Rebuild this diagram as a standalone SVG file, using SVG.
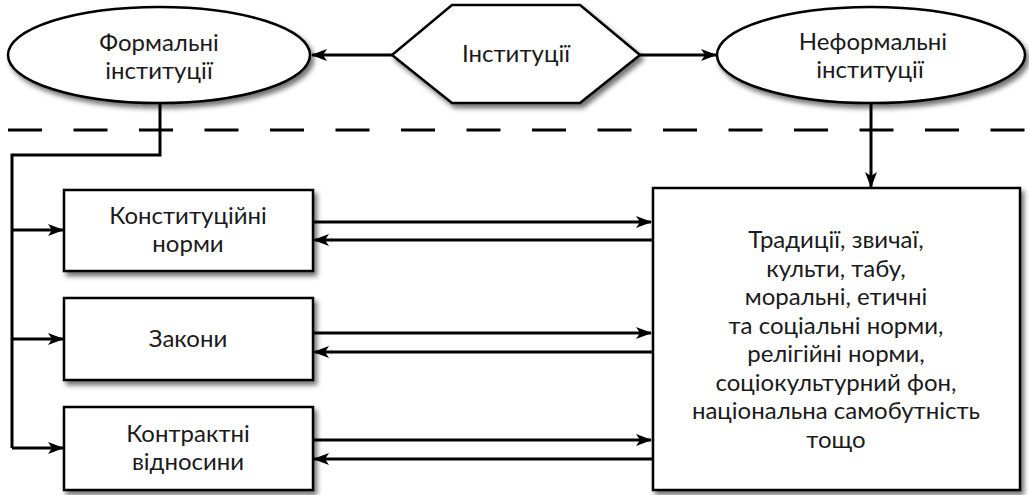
<svg xmlns="http://www.w3.org/2000/svg" width="1029" height="495" viewBox="0 0 1029 495">
  <style>
    .shape { fill: #ffffff; stroke: #000000; stroke-width: 2.5; filter: url(#shadow); }
    .lbl { font-family: Lato, "Open Sans", "Liberation Sans", sans-serif; font-size: 24px; fill: #1a1a1a; text-anchor: middle; }
    .conn { fill: none; stroke: #000000; stroke-width: 3; }
    .arrow { marker-end: url(#ah); }
    .dash { fill: none; stroke: #000000; stroke-width: 3; stroke-dasharray: 34 31.5; }
  </style>
  <defs>
    <filter id="shadow" x="-10%" y="-10%" width="130%" height="140%">
      <feDropShadow dx="3" dy="4" stdDeviation="2.5" flood-color="#000000" flood-opacity="0.55"/>
    </filter>
    <marker id="ah" viewBox="0 0 16 12" refX="15" refY="6" markerWidth="16" markerHeight="12" markerUnits="userSpaceOnUse" orient="auto">
      <path d="M0,0 L16,6 L0,12 L4,6 Z" fill="#000000"/>
    </marker>
  </defs>

  <rect width="1029" height="495" fill="#ffffff"/>

  <line class="dash" x1="8" y1="130" x2="1029" y2="130"/>

  <g id="connectors">
    <line class="conn arrow" x1="392" y1="55" x2="312" y2="55"/>
    <line class="conn arrow" x1="640" y1="55" x2="716" y2="55"/>
    <path class="conn" d="M160,103 V155 H12 V448"/>
    <line class="conn arrow" x1="12" y1="230" x2="63" y2="230"/>
    <line class="conn arrow" x1="12" y1="339" x2="63" y2="339"/>
    <line class="conn arrow" x1="12" y1="448" x2="63" y2="448"/>
    <line class="conn arrow" x1="871" y1="103" x2="871" y2="187"/>
    <line class="conn arrow" x1="313" y1="222" x2="651" y2="222"/>
    <line class="conn arrow" x1="652" y1="240" x2="314" y2="240"/>
    <line class="conn arrow" x1="313" y1="333" x2="651" y2="333"/>
    <line class="conn arrow" x1="652" y1="352" x2="314" y2="352"/>
    <line class="conn arrow" x1="313" y1="440" x2="651" y2="440"/>
    <line class="conn arrow" x1="652" y1="459" x2="314" y2="459"/>
  </g>

  <g id="formal">
    <ellipse class="shape" cx="159" cy="55" rx="151" ry="48"/>
    <text class="lbl" x="159" y="51">Формальні</text>
    <text class="lbl" x="159" y="79">інституції</text>
  </g>

  <g id="institutions">
    <polygon class="shape" points="392,55 452,5 580,5 640,55 580,103 452,103"/>
    <text class="lbl" x="516" y="62">Інституції</text>
  </g>

  <g id="informal">
    <ellipse class="shape" cx="871" cy="55" rx="154" ry="48"/>
    <text class="lbl" x="873" y="50">Неформальні</text>
    <text class="lbl" x="870" y="78">інституції</text>
  </g>

  <g id="constitutional">
    <rect class="shape" x="64" y="190" width="249" height="81"/>
    <text class="lbl" x="188" y="224">Конституційні</text>
    <text class="lbl" x="188" y="252">норми</text>
  </g>

  <g id="laws">
    <rect class="shape" x="64" y="298" width="249" height="82"/>
    <text class="lbl" x="188" y="347">Закони</text>
  </g>

  <g id="contracts">
    <rect class="shape" x="64" y="407" width="249" height="83"/>
    <text class="lbl" x="188" y="442">Контрактні</text>
    <text class="lbl" x="188" y="470">відносини</text>
  </g>

  <g id="informal-norms">
    <rect class="shape" x="653" y="188" width="367" height="302"/>
    <text class="lbl" x="836" y="248">Традиції, звичаї,</text>
    <text class="lbl" x="836" y="276.5">культи, табу,</text>
    <text class="lbl" x="836" y="305">моральні, етичні</text>
    <text class="lbl" x="836" y="333.5">та соціальні норми,</text>
    <text class="lbl" x="836" y="362">релігійні норми,</text>
    <text class="lbl" x="836" y="390.5">соціокультурний фон,</text>
    <text class="lbl" x="836" y="419">національна самобутність</text>
    <text class="lbl" x="836" y="447.5">тощо</text>
  </g>
</svg>
